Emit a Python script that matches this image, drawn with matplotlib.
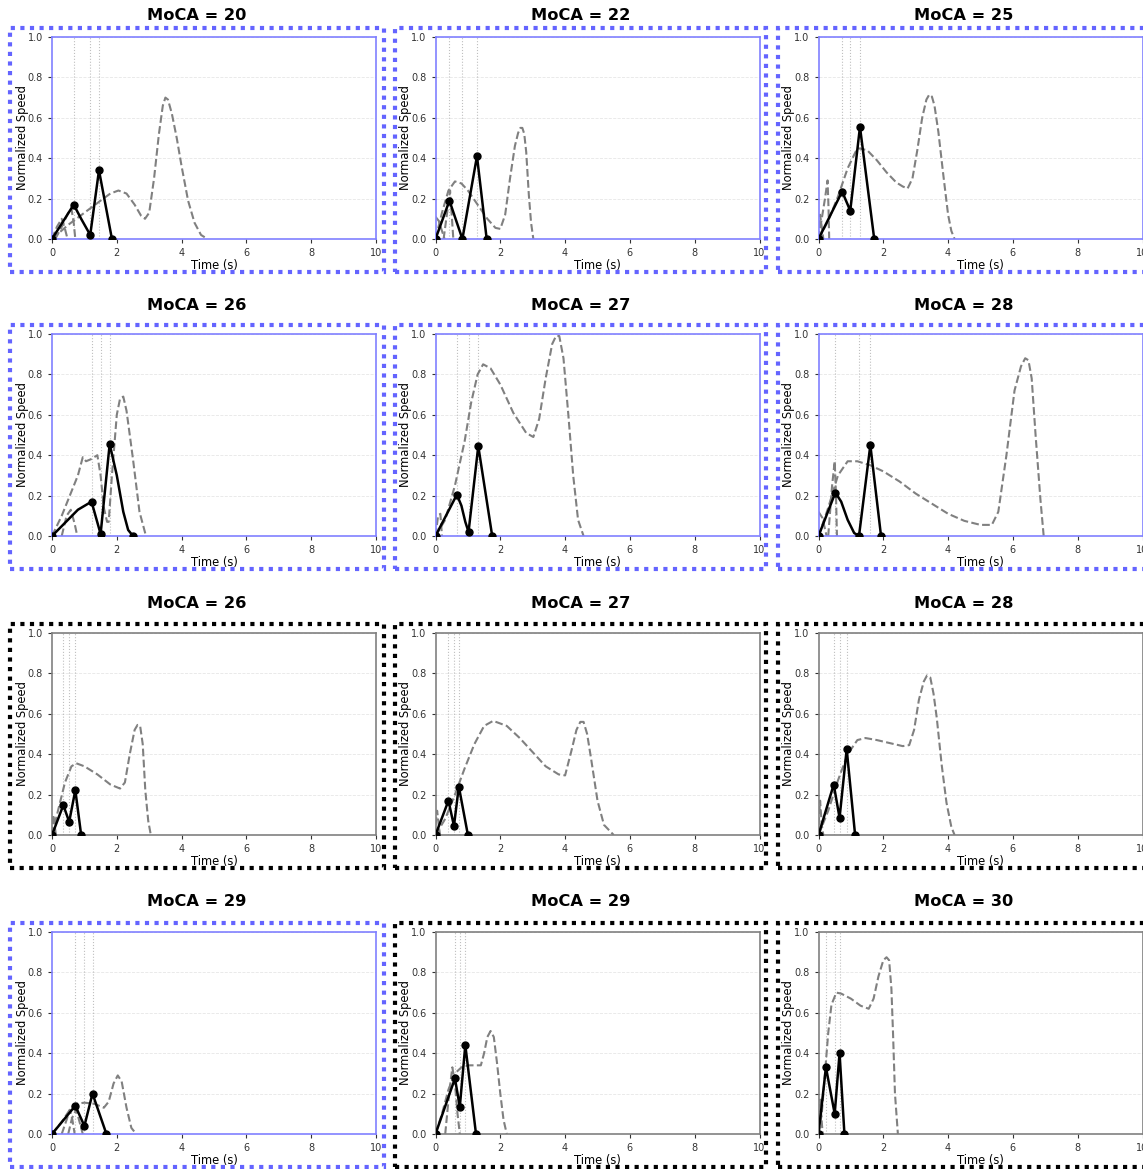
import matplotlib
matplotlib.use("Agg")
import matplotlib.pyplot as plt
from matplotlib.patches import Rectangle

# panel titles and group (blue / black frame), row by row
moca = [20, 22, 25, 26, 27, 28, 26, 27, 28, 29, 29, 30]
group = ['blue', 'blue', 'blue', 'blue', 'blue', 'blue',
         'black', 'black', 'black', 'blue', 'black', 'black']

# black speed profile (line points) and which of them carry a marker
black_t = [
    [0, 0.67, 0.9, 1.18, 1.45, 1.85],
    [0, 0.43, 0.83, 1.28, 1.58],
    [0, 0.73, 0.98, 1.28, 1.72],
    [0, 0.4, 0.8, 1.22, 1.5, 1.78, 2.0, 2.2, 2.35, 2.5],
    [0, 0.66, 0.8, 0.92, 1.02, 1.32, 1.75],
    [0, 0.52, 0.7, 0.9, 1.1, 1.25, 1.6, 1.93],
    [0, 0.35, 0.53, 0.72, 0.9],
    [0, 0.4, 0.57, 0.72, 1.0],
    [0, 0.47, 0.65, 0.87, 1.13],
    [0, 0.72, 1.0, 1.25, 1.68],
    [0, 0.6, 0.75, 0.92, 1.25],
    [0, 0.23, 0.5, 0.65, 0.8],
]
black_v = [
    [0, 0.17, 0.1, 0.02, 0.34, 0.0],
    [0, 0.19, 0.0, 0.41, 0.0],
    [0, 0.235, 0.14, 0.555, 0.0],
    [0, 0.065, 0.13, 0.17, 0.01, 0.455, 0.3, 0.12, 0.03, 0.0],
    [0, 0.205, 0.15, 0.07, 0.02, 0.445, 0.0],
    [0, 0.215, 0.17, 0.08, 0.015, 0.0, 0.45, 0.0],
    [0, 0.148, 0.065, 0.222, 0.0],
    [0, 0.17, 0.045, 0.24, 0.0],
    [0, 0.25, 0.085, 0.425, 0.0],
    [0, 0.14, 0.04, 0.2, 0.0],
    [0, 0.275, 0.135, 0.44, 0.0],
    [0, 0.33, 0.1, 0.4, 0.0],
]
key_idx = [
    [0, 1, 3, 4, 5],
    [0, 1, 2, 3, 4],
    [0, 1, 2, 3, 4],
    [0, 3, 4, 5, 9],
    [0, 1, 4, 5, 6],
    [0, 1, 5, 6, 7],
    [0, 1, 2, 3, 4],
    [0, 1, 2, 3, 4],
    [0, 1, 2, 3, 4],
    [0, 1, 2, 3, 4],
    [0, 1, 2, 3, 4],
    [0, 1, 2, 3, 4],
]

# gray dashed curves, several per panel
gray_t = [
    [[0, 0.5, 1.0, 1.5, 1.8, 2.05, 2.3, 2.55, 2.75, 2.87, 3.0, 3.15, 3.3, 3.42, 3.5, 3.58, 3.7, 3.85, 4.0, 4.2, 4.4, 4.6, 4.8],
     [0, 0.15, 0.3, 0.4, 0.48],
     [0.1, 0.3, 0.5, 0.6, 0.67, 0.72]],
    [[0, 0.2, 0.4, 0.6, 0.8, 1.0, 1.3, 1.6, 1.85, 2.0, 2.15, 2.3, 2.45, 2.55, 2.62, 2.68, 2.74, 2.8, 2.88, 2.95, 3.02],
     [0, 0.1, 0.2, 0.28],
     [0.25, 0.35, 0.45, 0.5, 0.55]],
    [[0, 0.3, 0.6, 0.9, 1.2, 1.5, 1.8, 2.1, 2.4, 2.6, 2.75, 2.9, 3.05, 3.2, 3.33, 3.42, 3.5, 3.58, 3.7, 3.85, 4.0, 4.1, 4.2],
     [0, 0.05, 0.1, 0.15],
     [0, 0.1, 0.2, 0.28, 0.31, 0.33]],
    [[0, 0.3, 0.6, 0.8, 0.95, 1.05, 1.2, 1.4, 1.5, 1.6, 1.7, 1.75, 1.85, 2.0, 2.1, 2.2, 2.3, 2.5, 2.7, 2.9],
     [0.3, 0.45, 0.58, 0.7, 0.78]],
    [[0, 0.3, 0.6, 0.9, 1.1, 1.3, 1.47, 1.7, 2.0, 2.4, 2.8, 3.02, 3.2, 3.4, 3.6, 3.72, 3.82, 3.95, 4.1, 4.25, 4.4, 4.57],
     [0, 0.08, 0.15, 0.2]],
    [[0, 0.3, 0.6, 0.9, 1.2, 1.6, 2.0, 2.5, 3.0, 3.5, 4.0, 4.5, 5.0, 5.35, 5.55, 5.8, 6.05, 6.25, 6.38, 6.48, 6.58, 6.7, 6.85, 6.95],
     [0, 0.12, 0.25],
     [0.3, 0.42, 0.5, 0.54, 0.57]],
    [[0, 0.2, 0.4, 0.6, 0.75, 1.0, 1.4, 1.8, 2.1, 2.25, 2.4, 2.55, 2.64, 2.72, 2.8, 2.88, 2.97, 3.05],
     [0, 0.04, 0.08, 0.12]],
    [[0, 0.3, 0.6, 0.9, 1.2, 1.5, 1.78, 2.2, 2.6, 3.0, 3.4, 3.8, 4.0, 4.2, 4.35, 4.47, 4.57, 4.68, 4.8, 5.0, 5.2, 5.5],
     [0, 0.05, 0.1, 0.14]],
    [[0, 0.3, 0.6, 0.9, 1.2, 1.45, 1.8, 2.2, 2.6, 2.8, 2.95, 3.1, 3.25, 3.35, 3.45, 3.55, 3.65, 3.8, 3.95, 4.1, 4.2],
     [0, 0.05, 0.1, 0.15]],
    [[0, 0.3, 0.55, 0.75, 1.0, 1.3, 1.6, 1.75, 1.9, 2.03, 2.15, 2.3, 2.45, 2.6],
     [0.3, 0.45, 0.55, 0.63, 0.7],
     [0.5, 0.62, 0.75, 0.85, 0.95]],
    [[0, 0.2, 0.4, 0.6, 0.8, 1.0, 1.2, 1.4, 1.5, 1.6, 1.7, 1.8, 1.9, 2.0, 2.1, 2.2],
     [0.3, 0.42, 0.52, 0.6, 0.68, 0.75]],
    [[0, 0.1, 0.2, 0.3, 0.4, 0.55, 0.7, 1.0, 1.3, 1.55, 1.7, 1.85, 2.0, 2.1, 2.18, 2.25, 2.3, 2.36, 2.45],
     [0, 0.05, 0.1, 0.13]],
]
gray_v = [
    [[0, 0.07, 0.13, 0.19, 0.225, 0.24, 0.225, 0.17, 0.115, 0.1, 0.13, 0.3, 0.52, 0.66, 0.7, 0.69, 0.62, 0.5, 0.36, 0.19, 0.08, 0.02, 0],
     [0, 0.06, 0.1, 0.05, 0],
     [0, 0.06, 0.13, 0.15, 0.08, 0]],
    [[0, 0.13, 0.24, 0.285, 0.275, 0.24, 0.17, 0.1, 0.055, 0.05, 0.12, 0.3, 0.46, 0.525, 0.55, 0.55, 0.52, 0.43, 0.22, 0.08, 0],
     [0.11, 0.09, 0.04, 0],
     [0, 0.12, 0.24, 0.12, 0]],
    [[0, 0.09, 0.21, 0.35, 0.45, 0.44, 0.39, 0.33, 0.28, 0.26, 0.25, 0.3, 0.44, 0.6, 0.69, 0.715, 0.705, 0.66, 0.53, 0.32, 0.12, 0.04, 0],
     [0, 0.12, 0.06, 0],
     [0, 0.1, 0.2, 0.29, 0.15, 0]],
    [[0, 0.1, 0.22, 0.3, 0.39, 0.37, 0.38, 0.4, 0.3, 0.14, 0.07, 0.07, 0.3, 0.6, 0.68, 0.69, 0.62, 0.38, 0.12, 0],
     [0, 0.1, 0.13, 0.06, 0]],
    [[0, 0.08, 0.25, 0.47, 0.66, 0.8, 0.85, 0.83, 0.75, 0.61, 0.51, 0.49, 0.58, 0.78, 0.95, 0.99, 0.99, 0.88, 0.6, 0.3, 0.08, 0],
     [0, 0.1, 0.11, 0]],
    [[0, 0.14, 0.3, 0.37, 0.37, 0.35, 0.32, 0.27, 0.21, 0.16, 0.11, 0.075, 0.055, 0.055, 0.12, 0.4, 0.72, 0.84, 0.88, 0.87, 0.78, 0.5, 0.18, 0],
     [0.12, 0.09, 0],
     [0, 0.25, 0.37, 0.2, 0]],
    [[0, 0.13, 0.26, 0.34, 0.355, 0.34, 0.3, 0.25, 0.23, 0.26, 0.4, 0.52, 0.545, 0.54, 0.45, 0.22, 0.07, 0],
     [0, 0.1, 0.05, 0]],
    [[0, 0.08, 0.2, 0.33, 0.45, 0.54, 0.565, 0.54, 0.48, 0.41, 0.34, 0.3, 0.295, 0.42, 0.52, 0.56, 0.56, 0.5, 0.38, 0.17, 0.05, 0],
     [0.05, 0.12, 0.05, 0]],
    [[0, 0.12, 0.27, 0.4, 0.47, 0.48, 0.47, 0.455, 0.44, 0.445, 0.52, 0.67, 0.76, 0.79, 0.78, 0.7, 0.58, 0.35, 0.16, 0.04, 0],
     [0.05, 0.17, 0.05, 0]],
    [[0, 0.06, 0.12, 0.15, 0.155, 0.15, 0.13, 0.16, 0.25, 0.29, 0.26, 0.13, 0.03, 0],
     [0, 0.07, 0.12, 0.07, 0],
     [0, 0.08, 0.12, 0.06, 0]],
    [[0, 0.1, 0.22, 0.3, 0.33, 0.34, 0.34, 0.34, 0.4, 0.48, 0.51, 0.48, 0.35, 0.2, 0.07, 0],
     [0, 0.2, 0.33, 0.25, 0.1, 0]],
    [[0, 0.1, 0.3, 0.5, 0.64, 0.7, 0.695, 0.67, 0.635, 0.62, 0.67, 0.78, 0.86, 0.875, 0.86, 0.72, 0.5, 0.2, 0],
     [0, 0.17, 0.06, 0]],
]

W, H = 1143, 1169
fig = plt.figure(figsize=(W / 100, H / 100), dpi=100)

frame_color = {'blue': '#6464ff', 'black': 'black'}
spine_color = {'blue': '#8080ff', 'black': '#808080'}

# layout in pixels
col_ax_left = [52, 435.5, 818.5]
col_box = [(10, 384), (395, 766), (778, 1150)]
row_box_top = [28, 325, 624, 923]
row_title_y = [15, 306, 604, 902]

for i in range(12):
    r, c = divmod(i, 3)
    g = group[i]
    ax_left = col_ax_left[c]
    ax_top = row_box_top[r] + 9
    ax = fig.add_axes([ax_left / W, 1 - (ax_top + 202) / H, 324 / W, 202 / H])

    for t, v in zip(gray_t[i], gray_v[i]):
        ax.plot(t, v, color='gray', ls='--', lw=1.5)
    ax.plot(black_t[i], black_v[i], color='black', lw=1.8, marker='o',
            markersize=5, markevery=key_idx[i], zorder=5)
    for k in key_idx[i][1:4]:
        ax.axvline(black_t[i][k], color='gray', ls=':', lw=0.8, alpha=0.5)

    ax.set_xlim(0, 10)
    ax.set_ylim(0, 1)
    ax.set_xticks([0, 2, 4, 6, 8, 10])
    ax.set_yticks([0, 0.2, 0.4, 0.6, 0.8, 1.0])
    ax.tick_params(labelsize=7, colors='#333333', length=3)
    ax.grid(axis='y', ls='--', lw=0.6, alpha=0.3)
    ax.set_xlabel('Time (s)', fontsize=8.3, labelpad=1)
    ax.set_ylabel('Normalized Speed', fontsize=8.3, labelpad=-1)
    for s in ax.spines.values():
        s.set_color(spine_color[g])
        s.set_linewidth(1.2)

    x0, x1 = col_box[c]
    y0 = row_box_top[r]
    box = Rectangle((x0 / W, 1 - (y0 + 244) / H), (x1 - x0) / W, 244 / H,
                    transform=fig.transFigure, fill=False, clip_on=False,
                    edgecolor=frame_color[g], lw=3, ls=(0, (1, 1.3)))
    fig.patches.append(box)
    fig.text((x0 + x1) / 2 / W, 1 - row_title_y[r] / H, f'MoCA = {moca[i]}',
             ha='center', va='center', fontsize=11.7, fontweight='bold')

fig.savefig('out.png', dpi=100)
